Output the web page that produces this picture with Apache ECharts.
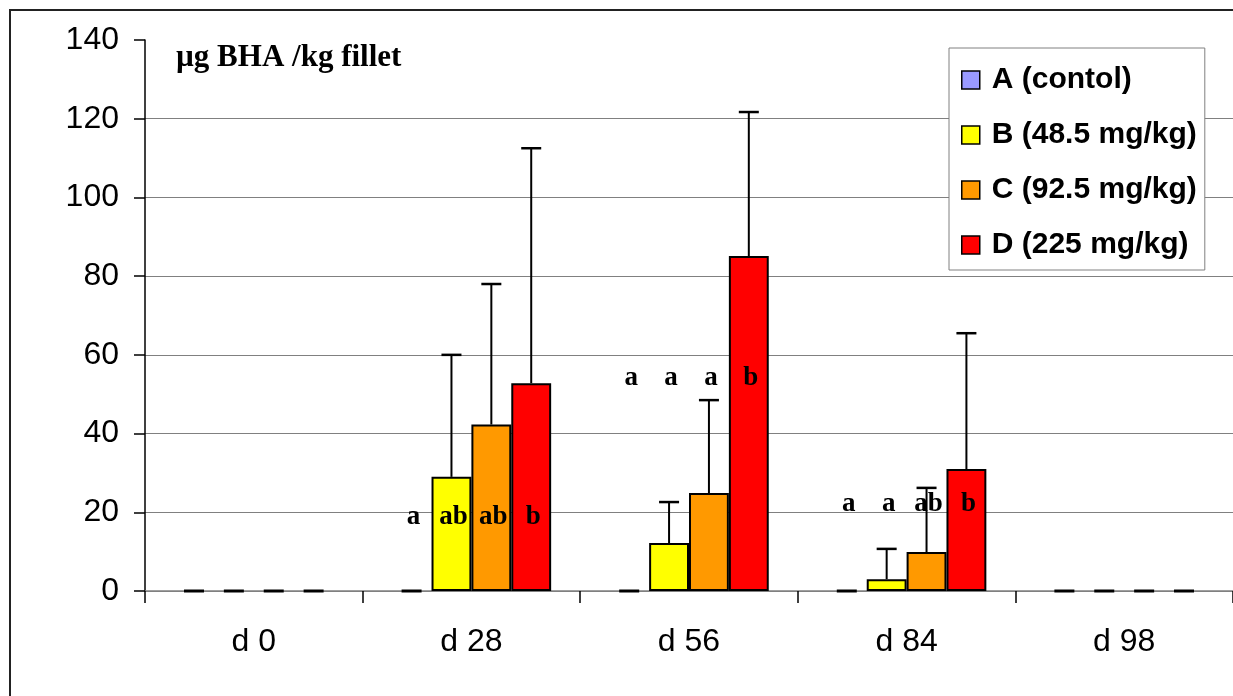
<!DOCTYPE html>
<html>
<head>
<meta charset="utf-8">
<script src="https://cdn.jsdelivr.net/npm/echarts@6/dist/echarts.min.js"></script>
<style>html,body{margin:0;padding:0;background:#fff;}#c{width:1233px;height:696px;}</style>
</head>
<body>
<div id="c"></div>
<script>
// ---- data ----
var categories = ['d 0', 'd 28', 'd 56', 'd 84', 'd 98'];
var seriesNames = ['A (contol)', 'B (48.5 mg/kg)', 'C (92.5 mg/kg)', 'D (225 mg/kg)'];
var valuesA = [0, 0, 0, 0, 0];
var valuesB = [0, 29.0, 12.2, 3.0, 0];
var valuesC = [0, 42.3, 24.9, 9.9, 0];
var valuesD = [0, 52.8, 85.1, 31.0, 0];
var sdA = [0, 0, 0, 0, 0];
var sdB = [0, 31.0, 10.4, 7.7, 0];
var sdC = [0, 35.7, 23.6, 16.3, 0];
var sdD = [0, 59.7, 36.6, 34.5, 0];
// significance letters: [categoryIndex, seriesIndex, yValue, letter]
var letterCats = [1, 1, 1, 1, 2, 2, 2, 2, 3, 3, 3, 3];
var letterSeries = [0, 1, 2, 3, 0, 1, 2, 3, 0, 1, 2, 3];
var letterY = [18.9, 18.9, 18.9, 18.9, 54.2, 54.2, 54.2, 54.2, 22.2, 22.2, 22.2, 22.2];
var letterText = ['a', 'ab', 'ab', 'b', 'a', 'a', 'a', 'b', 'a', 'a', 'ab', 'b'];
var yTicks = {min: 0, max: 140, interval: 20};
var title = 'µg BHA /kg fillet';

// ---- chart ----
var colors = ['#9999FF', '#FFFF00', '#FF9900', '#FF0000'];
var allValues = [valuesA, valuesB, valuesC, valuesD];
var allSd = [sdA, sdB, sdC, sdD];
var CAT_GAP = 0.267;

var barSeries = allValues.map(function (vals, si) {
  return {
    name: seriesNames[si],
    type: 'bar',
    barGap: '0%',
    barCategoryGap: (CAT_GAP * 100) + '%',
    itemStyle: {color: colors[si], borderColor: '#000', borderWidth: 2},
    data: vals.map(function (v) {
      return v === 0 ? {value: v, itemStyle: {borderWidth: 0}} : v;
    }),
    z: 2
  };
});

var errData = [];
allValues.forEach(function (vals, si) {
  vals.forEach(function (v, ci) {
    errData.push([ci, si, v, v + allSd[si][ci]]);
  });
});

function barOffset(api, si) {
  var band = api.size([1, 0])[0];
  var bw = band * (1 - CAT_GAP) / 4;
  return (si - 1.5) * bw;
}

var errSeries = {
  type: 'custom',
  name: 'err',
  silent: true,
  z: 3,
  encode: {x: 0, y: 3},
  data: errData,
  renderItem: function (params, api) {
    var ci = api.value(0), si = api.value(1);
    var p0 = api.coord([ci, api.value(2)]);
    var p1 = api.coord([ci, api.value(3)]);
    var x = p0[0] + barOffset(api, si);
    var capHalf = 10;
    var st = {stroke: '#000', lineWidth: 2};
    var capSt = {stroke: '#000', lineWidth: api.value(3) === api.value(2) ? 3 : 2.5};
    return {
      type: 'group',
      children: [
        {type: 'line', shape: {x1: x, y1: p0[1], x2: x, y2: p1[1]}, style: st},
        {type: 'line', shape: {x1: x - capHalf, y1: p1[1], x2: x + capHalf, y2: p1[1]}, style: capSt}
      ]
    };
  }
};

var letterData = letterCats.map(function (c, i) { return [c, letterSeries[i], letterY[i]]; });
var letterSeriesObj = {
  type: 'custom',
  name: 'letters',
  silent: true,
  z: 4,
  encode: {x: 0, y: 2},
  data: letterData,
  renderItem: function (params, api) {
    var ci = api.value(0), si = api.value(1);
    var p = api.coord([ci, api.value(2)]);
    return {
      type: 'text',
      style: {
        x: p[0] + barOffset(api, si) + 2,
        y: p[1],
        text: letterText[params.dataIndex],
        fill: '#000',
        font: 'bold 27px "Liberation Serif", "Times New Roman", serif',
        textAlign: 'center',
        textVerticalAlign: 'middle'
      }
    };
  }
};

var chart = echarts.init(document.getElementById('c'), null, {renderer: 'canvas'});
chart.setOption({
  animation: false,
  backgroundColor: '#fff',
  title: {
    text: title,
    left: 171,
    top: 37,
    textStyle: {fontFamily: '"Liberation Serif", "Times New Roman", serif', fontWeight: 'bold', fontSize: 31, color: '#000'}
  },
  graphic: [{
    type: 'rect',
    shape: {x: 10, y: 10, width: 1400, height: 900},
    style: {fill: 'none', stroke: '#222', lineWidth: 2},
    silent: true,
    z: -1
  }],
  legend: {
    data: seriesNames,
    orient: 'vertical',
    left: 949,
    top: 48,
    padding: [17, 8, 10, 12],
    itemGap: 25,
    itemWidth: 18,
    itemHeight: 18,
    icon: 'rect',
    backgroundColor: '#fff',
    borderColor: '#808080',
    borderWidth: 1,
    itemStyle: {borderColor: '#000', borderWidth: 1.5},
    textStyle: {fontFamily: '"Liberation Sans", Arial, sans-serif', fontWeight: 'bold', fontSize: 30, color: '#000', lineHeight: 30, padding: [0, 0, 0, 7]},
    selectedMode: false
  },
  grid: {left: 145, top: 40, width: 1092, height: 551, containLabel: false},
  xAxis: {
    type: 'category',
    data: categories,
    axisLine: {lineStyle: {color: '#808080', width: 1.5}},
    axisTick: {show: true, alignWithLabel: false, length: 12, lineStyle: {color: '#000', width: 1.5}},
    axisLabel: {fontFamily: '"Liberation Sans", Arial, sans-serif', fontSize: 32, color: '#000', margin: 35}
  },
  yAxis: {
    type: 'value',
    min: yTicks.min,
    max: yTicks.max,
    interval: yTicks.interval,
    axisLine: {show: true, lineStyle: {color: '#000', width: 1.5}},
    axisTick: {show: true, length: 11, lineStyle: {color: '#000', width: 1.5}},
    axisLabel: {fontFamily: '"Liberation Sans", Arial, sans-serif', fontSize: 32, color: '#000', margin: 26},
    splitLine: {show: true, showMaxLine: false, lineStyle: {color: '#808080', width: 1}}
  },
  series: barSeries.concat([errSeries, letterSeriesObj])
});
</script>
</body>
</html>
